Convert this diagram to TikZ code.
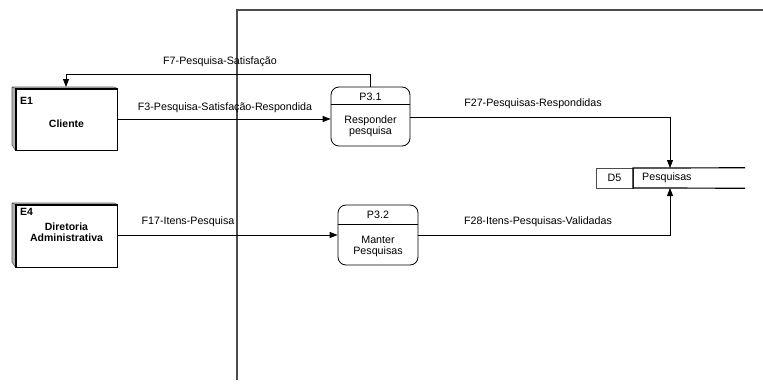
\documentclass[tikz,border=0pt]{standalone}
\usepackage{fontspec}
\setmainfont{Liberation Sans}
\usetikzlibrary{arrows.meta,calc}
\begin{document}
\begin{tikzpicture}[x=1pt,y=-1pt,
  lbl/.style={font=\fontsize{10.7}{12.5}\selectfont, inner sep=0pt},
  blbl/.style={font=\fontsize{10.5}{12.5}\selectfont\bfseries, inner sep=0pt, align=center},
  face/.style={draw=black, line width=0.9pt, fill=white, inner sep=0pt},
  bevtop/.style={fill=black!25},
  bevleft/.style={fill=black!30},
  bevline/.style={draw=black!65, line width=0.6pt},
  proc/.style={draw=black, line width=0.8pt, rounded corners=8pt, inner sep=0pt},
  flow/.style={draw=black, line width=0.8pt, -{Triangle[length=8pt,width=6pt]}},
  frame/.style={draw=black!70, line width=1.3pt}
]
\useasboundingbox (0,0) rectangle (763,383);

% frame lines
\coordinate (fa) at (237,380);
\coordinate (fb) at (237,10);
\coordinate (fc) at (763,10);
\draw[frame] (fa) -- (fb) -- (fc);

% E1
\node[face, minimum width=101pt, minimum height=61pt] (e1) at (66.5,119.5) {};
\fill[bevtop] (12,87) -- (114,87) -- (e1.north east) -- (e1.north west) -- cycle;
\fill[bevleft] (12,87) -- (e1.north west) -- (e1.south west) -- (12,145) -- cycle;
\draw[bevline] (12,87) -- (114,87) -- (e1.north east);
\draw[bevline] (12,87) -- (e1.north west) (12,87) -- (12,145) -- (e1.south west);
\draw[black, line width=0.9pt] (e1.north west) rectangle (e1.south east);
\node[blbl, anchor=west] (e1id) at (20,101) {E1};
\node[blbl] (e1t) at (66.5,124) {Cliente};

% E4
\node[face, minimum width=101pt, minimum height=62pt] (e4) at (66.5,236) {};
\fill[bevtop] (12,203) -- (114,203) -- (e4.north east) -- (e4.north west) -- cycle;
\fill[bevleft] (12,203) -- (e4.north west) -- (e4.south west) -- (12,262) -- cycle;
\draw[bevline] (12,203) -- (114,203) -- (e4.north east);
\draw[bevline] (12,203) -- (e4.north west) (12,203) -- (12,262) -- (e4.south west);
\draw[black, line width=0.9pt] (e4.north west) rectangle (e4.south east);
\node[blbl, anchor=west] (e4id) at (20,212) {E4};
\node[blbl] (e4t) at (66.5,232) {Diretoria\\[-1pt]Administrativa};

% P3.1
\node[proc, minimum width=79pt, minimum height=59pt] (p31) at (370.5,116.5) {};
\draw[black, line width=0.8pt] ($(p31.north west)+(0,18)$) -- ($(p31.north east)+(0,18)$);
\node[lbl] (p31id) at (370.5,96.5) {P3.1};
\node[lbl, align=center] (p31t) at (370.5,126) {Responder\\[-1pt]pesquisa};

% P3.2
\node[proc, minimum width=80pt, minimum height=60pt] (p32) at (378,235) {};
\draw[black, line width=0.8pt] ($(p32.north west)+(0,20)$) -- ($(p32.north east)+(0,20)$);
\node[lbl] (p32id) at (378,215) {P3.2};
\node[lbl, align=center] (p32t) at (378,246.5) {Manter\\[-1pt]Pesquisas};

% D5 data store
\node[inner sep=0pt, minimum width=149pt, minimum height=20pt] (d5) at (670.5,178) {};
\coordinate (d5a) at (633,168);
\coordinate (d5b) at (633,188);
\draw[black!70, line width=0.6pt] (d5.north west) rectangle (d5b);
\draw[black, line width=1.2pt] (d5.north east) -- (d5a) -- (d5b) -- (d5.south east);
\node[lbl] (d5id) at (614.5,178) {D5};
\node[lbl, anchor=west] (d5t) at (642,178) {Pesquisas};
\coordinate (d5in) at (670,168);
\coordinate (d5in2) at (670,188);

% flows
\coordinate (f7a) at (370,74);
\coordinate (f7b) at (66,74);
\draw[flow] (p31.north -| f7a) -- (f7a) -- (f7b) -- (f7b |- 12,87);
\node[lbl] (f7l) at (220,62) {F7-Pesquisa-Satisfação};

\draw[flow] (e1.east |- 0,119) -- (p31.west |- 0,119);
\node[lbl] (f3l) at (225,108) {F3-Pesquisa-Satisfação-Respondida};

\draw[flow] (p31.east |- 0,117) -| (d5in);
\node[lbl] (f27l) at (533,104) {F27-Pesquisas-Respondidas};

\draw[flow] (e4.east |- 0,235) -- (p32.west |- 0,235);
\node[lbl] (f17l) at (188,222) {F17-Itens-Pesquisa};

\draw[flow] (p32.east |- 0,235) -| (d5in2);
\node[lbl] (f28l) at (538,222) {F28-Itens-Pesquisas-Validadas};
\end{tikzpicture}
\end{document}
